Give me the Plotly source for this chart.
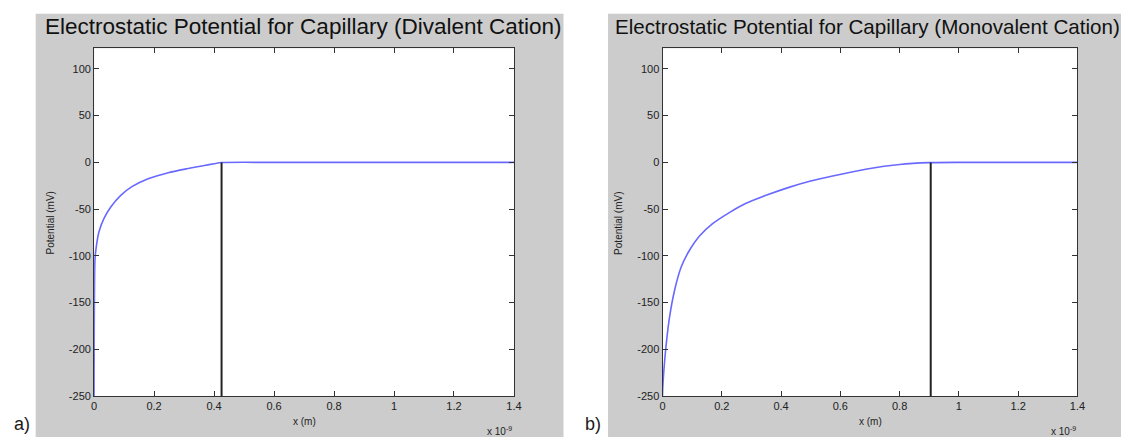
import plotly.graph_objects as go

# ---- data (x in units of 1e-9 m, potential in mV) ----
div_x = [0, 0.0005, 0.0015, 0.003, 0.008, 0.016, 0.033, 0.055, 0.088, 0.126, 0.18, 0.247, 0.313, 0.368, 0.40, 0.425, 0.6, 1.0, 1.4]
div_y = [-250, -180, -125, -103, -88.6, -74.5, -60, -48, -35.5, -26, -17.5, -11, -6.6, -3.3, -1.5, -0.2, 0, 0, 0]
div_wall_x = [0.425, 0.425]
div_wall_y = [-250, 0]

mono_x = [0, 0.001, 0.004, 0.013, 0.024, 0.041, 0.063, 0.091, 0.124, 0.169, 0.224, 0.28, 0.347, 0.424, 0.50, 0.574, 0.69, 0.80, 0.90, 1.0, 1.2, 1.4]
mono_y = [-250, -240, -225, -193, -165, -136.5, -112, -94, -79, -65.6, -54, -44, -35.5, -27, -20, -14.5, -7, -2.2, -0.3, 0, 0, 0]
mono_wall_x = [0.905, 0.905]
mono_wall_y = [-250, 0]

x_ticks = [0, 0.2, 0.4, 0.6, 0.8, 1.0, 1.2, 1.4]
x_tick_labels = ["0", "0.2", "0.4", "0.6", "0.8", "1", "1.2", "1.4"]
y_ticks = [-250, -200, -150, -100, -50, 0, 50, 100]
y_tick_labels = ["-250", "-200", "-150", "-100", "-50", "0", "50", "100"]

titles = ["Electrostatic Potential for Capillary (Divalent Cation)",
          "Electrostatic Potential for Capillary (Monovalent Cation)"]

W, H = 1129, 443
FONT = "Liberation Sans, Arial, sans-serif"
BLUE = "rgb(105,105,255)"

fig = go.Figure()
fig.add_trace(go.Scatter(x=div_x, y=div_y, mode="lines", line=dict(color=BLUE, width=1.6, shape="spline", smoothing=0.6),
                         xaxis="x", yaxis="y", showlegend=False))
fig.add_trace(go.Scatter(x=div_wall_x, y=div_wall_y, mode="lines", line=dict(color="#222", width=2),
                         xaxis="x", yaxis="y", showlegend=False))
fig.add_trace(go.Scatter(x=mono_x, y=mono_y, mode="lines", line=dict(color=BLUE, width=1.6, shape="spline", smoothing=0.6),
                         xaxis="x2", yaxis="y2", showlegend=False))
fig.add_trace(go.Scatter(x=mono_wall_x, y=mono_wall_y, mode="lines", line=dict(color="#222", width=2),
                         xaxis="x2", yaxis="y2", showlegend=False))

def px(x):
    return x / W

def py(y):
    return 1 - y / H

axis_common = dict(showgrid=False, zeroline=False, showline=True, linecolor="#333", linewidth=1,
                   ticks="inside", ticklen=5, tickcolor="#333", mirror="ticks",
                   tickfont=dict(family=FONT, size=11, color="#222"))

ydom = [py(401.5), py(49)]
fig.update_layout(
    width=W, height=H, margin=dict(l=0, r=0, t=0, b=0),
    paper_bgcolor="white", plot_bgcolor="white",
    xaxis=dict(domain=[px(92), px(516)], range=[0, 1.4], tickvals=x_ticks, ticktext=x_tick_labels,
               anchor="y", **axis_common),
    yaxis=dict(domain=ydom, range=[-250, 122], tickvals=y_ticks, ticktext=y_tick_labels,
               anchor="x", **axis_common),
    xaxis2=dict(domain=[px(666), px(1085)], range=[0, 1.4], tickvals=x_ticks, ticktext=x_tick_labels,
                anchor="y2", **axis_common),
    yaxis2=dict(domain=ydom, range=[-250, 122], tickvals=y_ticks, ticktext=y_tick_labels,
                anchor="x2", **axis_common),
)

shapes = [
    dict(type="rect", xref="paper", yref="paper", x0=px(33), x1=px(566), y0=0, y1=py(14),
         fillcolor="#cccccc", line=dict(width=0), layer="below"),
    dict(type="rect", xref="paper", yref="paper", x0=px(611), x1=1, y0=0, y1=py(14),
         fillcolor="#cccccc", line=dict(width=0), layer="below"),
    dict(type="rect", xref="x domain", yref="y domain", x0=0, x1=1, y0=0, y1=1,
         fillcolor="white", line=dict(width=0), layer="below"),
    dict(type="rect", xref="x2 domain", yref="y2 domain", x0=0, x1=1, y0=0, y1=1,
         fillcolor="white", line=dict(width=0), layer="below"),
]
fig.update_layout(shapes=shapes)

ann = []
def text(x, y, s, size, xanchor="center", angle=0, color="#222"):
    ann.append(dict(x=px(x), y=py(y), xref="paper", yref="paper", text=s, showarrow=False,
                    xanchor=xanchor, yanchor="middle", textangle=angle, borderpad=0,
                    font=dict(family=FONT, size=size, color=color)))

text(41, 27, titles[0], 22.5, xanchor="left", color="#111")
text(617, 27, titles[1], 20.6, xanchor="left", color="#111")
for cx, ox in [(304, 92), (876, 666)]:
    text(cx, 427, "x (m)", 10)
    text(ox - 44, 226, "Potential (mV)", 10, angle=-90)
text(501, 437, "x 10<sup>-9</sup>", 10)
text(1071, 437, "x 10<sup>-9</sup>", 10)
text(19, 430, "a)", 18, color="#1a1a1a")
text(596, 430, "b)", 18, color="#1a1a1a")
fig.update_layout(annotations=ann)

fig.write_html("out.html")
